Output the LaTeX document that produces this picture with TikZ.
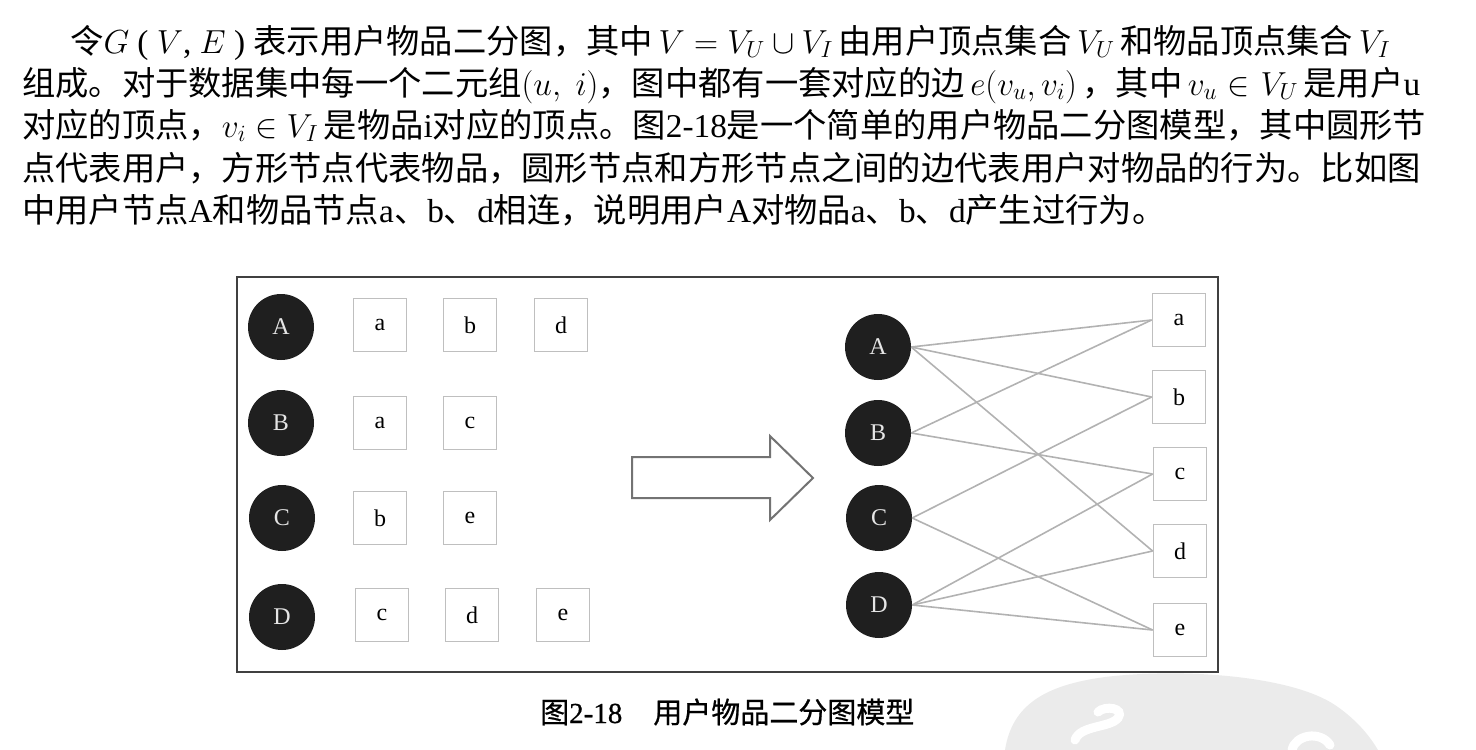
\RequirePackage{fix-cm}
\documentclass[tikz,border=0pt]{standalone}
\usepackage{fontspec}
\setmainfont{Liberation Serif}
\newfontfamily\zh{Noto Sans CJK SC}
\newfontfamily\zhcap[FakeBold=0.7]{Noto Sans CJK SC}
\newfontfamily\numcap[FakeBold=0.7]{Liberation Serif}
\XeTeXlinebreaklocale "zh"
\XeTeXlinebreakskip=0pt plus 4pt
\newcommand\z[1]{{\zh #1}}

\begin{document}
\begin{tikzpicture}[x=1pt,y=-1pt,
	user/.style={circle, fill=black!88, text=black!10, minimum size=66pt, inner sep=0pt, font=\fontsize{24}{24}\selectfont},
	item/.style={draw=black!25, line width=1.8pt, fill=white, minimum size=53pt, inner sep=0pt, font=\fontsize{24}{24}\selectfont},
	link/.style={draw=black!30, line width=1.6pt},
	txtline/.style={anchor=base west, inner sep=0pt, font=\fontsize{33.3}{40}\selectfont}]
	\useasboundingbox (0,0) rectangle (1476,750);
	\fill[black!8] (1005,750) .. controls (1012,705) and (1045,685) .. (1105,677) .. controls (1180,668) and (1290,675) .. (1335,705) .. controls (1360,722) and (1372,740) .. (1378,750) -- cycle;
	\draw[white, line width=9pt, line cap=round] (1075,740) .. controls (1080,725) and (1110,728) .. (1118,718) .. controls (1125,708) and (1105,705) .. (1098,712);
	\draw[white, line width=9pt, line cap=round] (1292,750) .. controls (1295,735) and (1320,730) .. (1330,745);

	\node[txtline] (l1) at (70,53) {\hbox to 1320pt{\z{令}$G$ ( $V$, $E$ ) \z{表示用户物品二分图，其中}\,$V=V_U\cup V_I$\,\z{由用户顶点集合}\,$V_U$\,\z{和物品顶点集合}\,$V_I$}};
	\node[txtline] (l2) at (22,95) {\hbox to 1398pt{\z{组成。对于数据集中每一个二元组}$(u,\ i)$\z{，图中都有一套对应的边}\,$e(v_u,v_i)$\,\z{，其中}\,$v_u\in V_U$\,\z{是用户}u}};
	\node[txtline] (l3) at (22,137) {\hbox to 1398pt{\z{对应的顶点，}$v_i\in V_I$\,\z{是物品}i\z{对应的顶点。图}2-18\z{是一个简单的用户物品二分图模型，其中圆形节}}};
	\node[txtline] (l4) at (22,180) {\hbox to 1398pt{\z{点代表用户，方形节点代表物品，圆形节点和方形节点之间的边代表用户对物品的行为。比如图}}};
	\node[txtline] (l5) at (22,222) {\z{中用户节点}A\z{和物品节点}a\z{、}b\z{、}d\z{相连，说明用户}A\z{对物品}a\z{、}b\z{、}d\z{产生过行为。}};

	\draw[black!75, line width=1.5pt] (237,277) rectangle (1218,672);

	\node[user] (A1) at (281,327) {A};
	\node[user] (B1) at (281,423) {B};
	\node[user] (C1) at (282,518) {C};
	\node[user] (D1) at (282,617) {D};
	\node[item] (A1a) at (380,325) {a};
	\node[item] (A1b) at (470,325) {b};
	\node[item] (A1d) at (561,325) {d};
	\node[item] (B1a) at (380,423) {a};
	\node[item] (B1c) at (470,423) {c};
	\node[item] (C1b) at (380,518) {b};
	\node[item] (C1e) at (470,518) {e};
	\node[item] (D1c) at (382,615) {c};
	\node[item] (D1d) at (472,615) {d};
	\node[item] (D1e) at (563,615) {e};

	\draw[black!55, line width=2pt, fill=white] (632,457) -- (770,457) -- (770,436) -- (813,478) -- (770,520) -- (770,498) -- (632,498) -- cycle;

	\node[user] (A) at (878,347) {A};
	\node[user] (B) at (878,433) {B};
	\node[user] (C) at (879,518) {C};
	\node[user] (D) at (879,605) {D};
	\node[item] (a) at (1179,320) {a};
	\node[item] (b) at (1179,397) {b};
	\node[item] (c) at (1180,474) {c};
	\node[item] (d) at (1180,551) {d};
	\node[item] (e) at (1180,630) {e};
	\draw[link] (A.east) -- (a.west);
	\draw[link] (A.east) -- (b.west);
	\draw[link] (A.east) -- (d.west);
	\draw[link] (B.east) -- (a.west);
	\draw[link] (B.east) -- (c.west);
	\draw[link] (C.east) -- (b.west);
	\draw[link] (C.east) -- (e.west);
	\draw[link] (D.east) -- (c.west);
	\draw[link] (D.east) -- (d.west);
	\draw[link] (D.east) -- (e.west);

	\node[anchor=base west, inner sep=0pt, font=\fontsize{29}{29}\selectfont] (cap) at (540,723) {{\zhcap 图}{\numcap 2-18}\hspace{31pt}{\zhcap 用户物品二分图模型}};
\end{tikzpicture}
\end{document}
